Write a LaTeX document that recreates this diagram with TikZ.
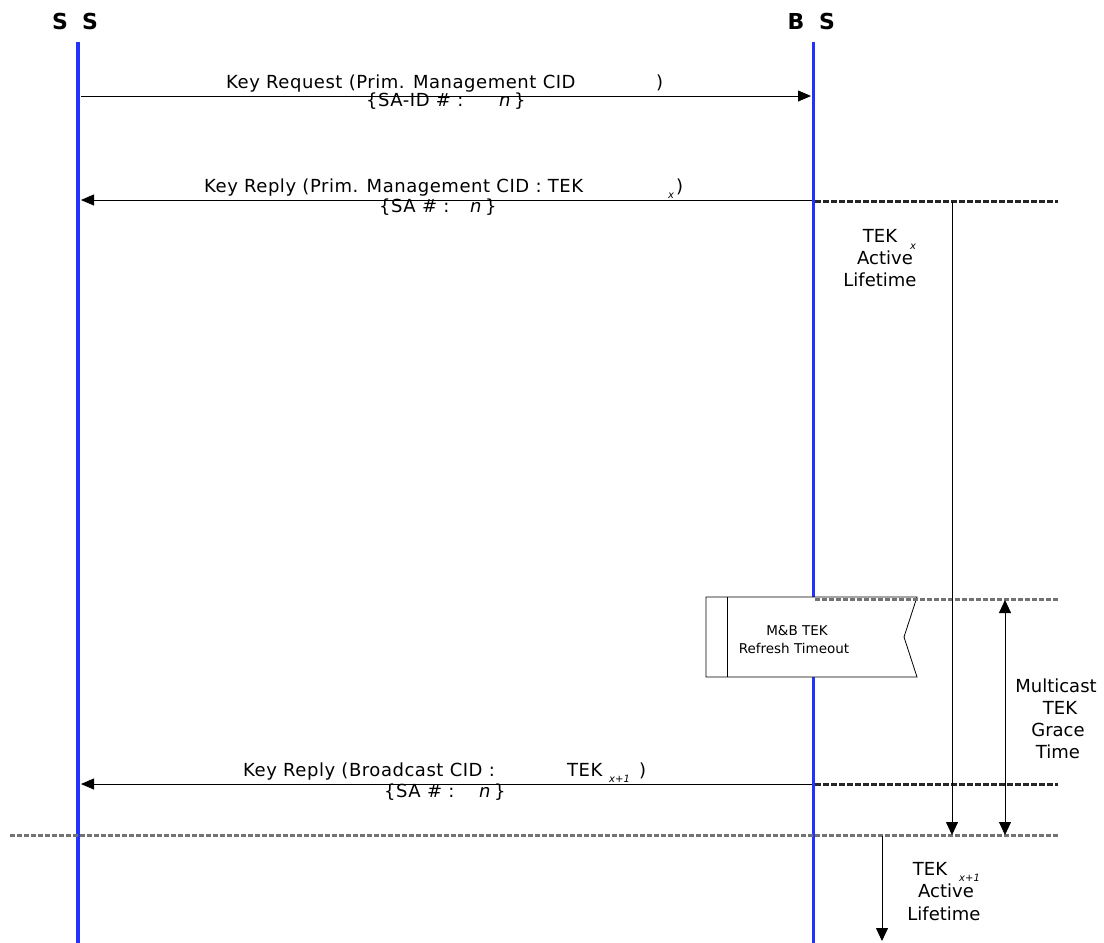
\documentclass[tikz,border=0pt]{standalone}
\usepackage{fontspec}
\setmainfont{DejaVu Sans}
\newfontfamily\msgfont{DejaVu Sans}[LetterSpace=3]
\usetikzlibrary{arrows.meta}
\definecolor{lifeblue}{RGB}{34,51,255}
\begin{document}
\begin{tikzpicture}[x=1pt,y=-1pt,
  txt/.style={inner sep=0pt, anchor=base west, font=\msgfont\fontsize{18}{21}\selectfont},
  ctxt/.style={inner sep=0pt, anchor=base, font=\fontsize{18}{21}\selectfont},
  small/.style={inner sep=0pt, anchor=base, font=\fontsize{13.5}{16}\selectfont},
  sub/.style={inner sep=0pt, anchor=base west, font=\fontsize{10}{12}\selectfont\itshape},
  hdr/.style={inner sep=0pt, anchor=base, font=\fontsize{22}{26}\selectfont\bfseries},
  life/.style={draw=lifeblue},
  msg/.style={line width=0.8pt, -{Triangle[length=13pt,width=11pt]}},
  dur/.style={line width=0.8pt, -{Triangle[length=13pt,width=12pt]}},
  durboth/.style={line width=0.8pt, {Triangle[length=13pt,width=12pt]}-{Triangle[length=13pt,width=12pt]}},
  tbound/.style={draw=black!85, line width=3pt, dash pattern=on 6pt off 2pt},
  tboundlight/.style={draw=black!55, line width=3pt, dash pattern=on 5pt off 2pt},
  timerbox/.style={line width=0.8pt, fill=white},
]
\useasboundingbox (0,0) rectangle (1104,943);

% lifelines
\coordinate (ssT) at (78,42);
\coordinate (ssB) at (78,943);
\coordinate (bsT) at (813,42);
\coordinate (bsB) at (813,943);
\draw[life, line width=4.5pt] (ssT) -- (ssB);
\draw[life, line width=3pt] (bsT) -- (bsB);

% headers
\node[hdr] (hS1) at (60,29) {S};
\node[hdr] (hS2) at (90,29) {S};
\node[hdr] (hB)  at (796,29) {B};
\node[hdr] (hS3) at (827,29) {S};

% timer box
\draw[timerbox] (706,597) -- (917,597) -- (904,637) -- (917,677) -- (706,677) -- cycle;
\draw[line width=0.8pt] (727,597) -- (727,677);
\node[small] (tm1) at (797,635) {M\&B TEK};
\node[small] (tm2) at (794,653) {Refresh Timeout};

% boundary lines
\coordinate (b1s) at (815,201);  \coordinate (b1e) at (1058,201);
\coordinate (b2s) at (815,599);  \coordinate (b2e) at (1058,599);
\coordinate (b3s) at (815,784);  \coordinate (b3e) at (1058,784);
\coordinate (b4s) at (10,835);   \coordinate (b4e) at (1058,835);
\draw[tbound] (b1s) -- (b1e);
\draw[tboundlight] (b2s) -- (b2e);
\draw[tbound] (b3s) -- (b3e);
\draw[tboundlight] (b4s) -- (b4e);

% messages
\coordinate (m1s) at (81,96);   \coordinate (m1e) at (811,96);
\coordinate (m2s) at (812,200); \coordinate (m2e) at (81,200);
\coordinate (m3s) at (812,784); \coordinate (m3e) at (81,784);
\draw[msg] (m1s) -- (m1e);
\draw[msg] (m2s) -- (m2e);
\draw[msg] (m3s) -- (m3e);

% message labels
\node[txt] (l1a) at (226,88) {Key Request (Prim. Management CID};
\node[txt] (l1b) at (656,88) {)};
\node[txt] (l1c) at (366,106) {\{SA-ID \# :};
\node[txt] (l1d) at (499,106) {\textit{n}\,\}};

\node[txt] (l2a) at (204,192) {Key Reply (Prim. Management CID : TEK};
\node[sub] (l2x) at (668,198) {x};
\node[txt] (l2b) at (676,192) {)};
\node[txt] (l2c) at (379,212) {\{SA \# :};
\node[txt] (l2d) at (470,212) {\textit{n}\,\}};

\node[txt] (l3a) at (243,776) {Key Reply (Broadcast CID :};
\node[txt] (l3t) at (567,776) {TEK};
\node[sub] (l3x) at (609,782) {x+1};
\node[txt] (l3b) at (639,776) {)};
\node[txt] (l3c) at (384,797) {\{SA \# :};
\node[txt] (l3d) at (479,797) {\textit{n}\,\}};

% duration arrows
\coordinate (d1s) at (952,202); \coordinate (d1e) at (952,835);
\coordinate (d2s) at (1005,600); \coordinate (d2e) at (1005,835);
\coordinate (d3s) at (882,836); \coordinate (d3e) at (882,941);
\draw[dur] (d1s) -- (d1e);
\draw[durboth] (d2s) -- (d2e);
\draw[dur] (d3s) -- (d3e);

% duration labels
\node[ctxt] (a1) at (880,242) {TEK};
\node[sub] (a1x) at (910,249) {x};
\node[ctxt] (a2) at (885,264) {Active};
\node[ctxt] (a3) at (880,286) {Lifetime};

\node[ctxt] (g1) at (1056,692) {Multicast};
\node[ctxt] (g2) at (1060,714) {TEK};
\node[ctxt] (g3) at (1058,736) {Grace};
\node[ctxt] (g4) at (1058,758) {Time};

\node[ctxt] (c1) at (930,875) {TEK};
\node[sub] (c1x) at (959,881) {x+1};
\node[ctxt] (c2) at (946,897) {Active};
\node[ctxt] (c3) at (944,920) {Lifetime};
\end{tikzpicture}
\end{document}
